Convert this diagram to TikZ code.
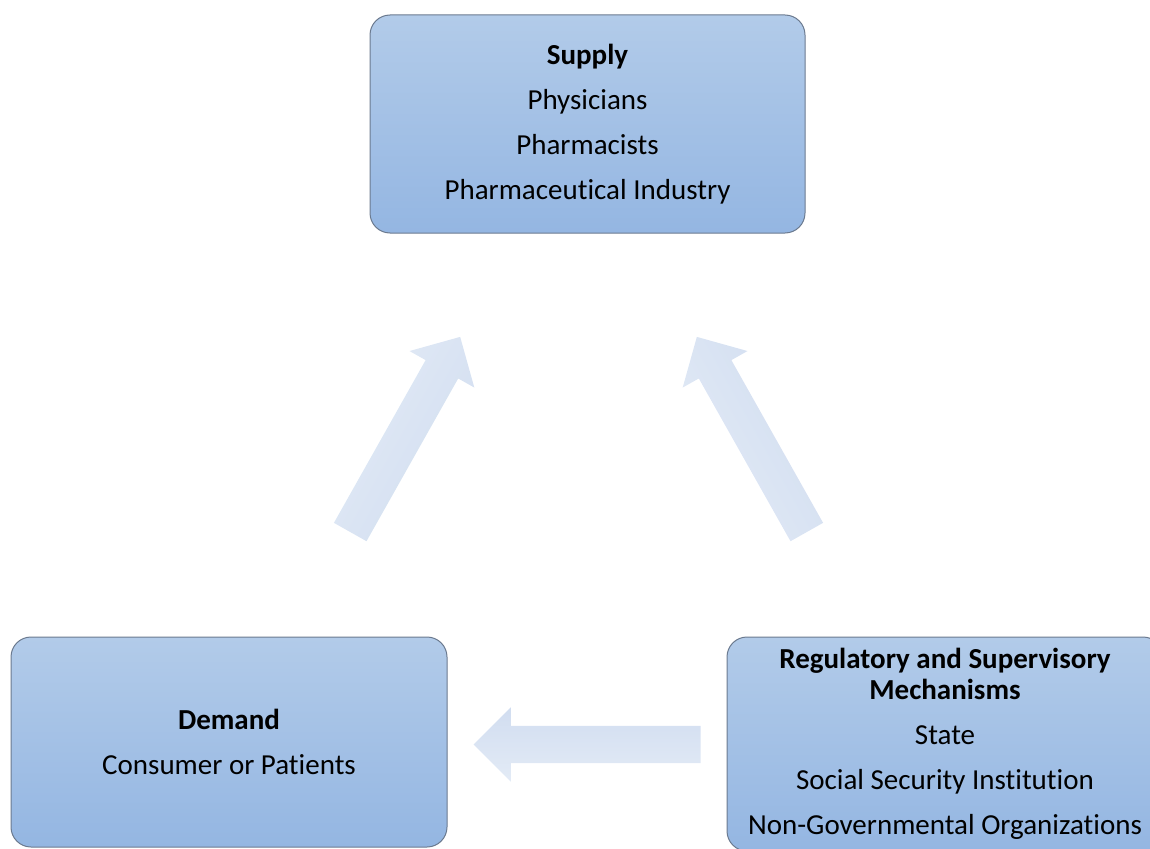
\documentclass[tikz,border=0pt]{standalone}
\usepackage{fontspec}
\setmainfont{Carlito}[Ligatures={NoCommon}]
\usetikzlibrary{shapes.arrows}

\definecolor{boxtop}{HTML}{B2CBE9}
\definecolor{boxbot}{HTML}{94B6E2}
\definecolor{boxline}{HTML}{6B7A8F}
\definecolor{arrtop}{HTML}{E3EBF6}
\definecolor{arrbot}{HTML}{D1DDF0}

\begin{document}
\begin{tikzpicture}[
  x=1pt, y=-1pt,
  font=\fontsize{29}{45}\selectfont,
  box/.style = {draw=boxline, line width=1pt, rounded corners=20pt,
                top color=boxtop, bottom color=boxbot,
                align=center, inner sep=0pt},
  blockarrow/.style = {single arrow, single arrow head extend=18.5pt,
                       single arrow tip angle=90, single arrow head indent=0pt,
                       minimum height=#1, inner xsep=0pt, inner ysep=18.5pt,
                       top color=arrtop, bottom color=arrbot}
]
\useasboundingbox (0,0) rectangle (1150,848);
\clip (0,0) rectangle (1150,848);

% Boxes
\node[box, minimum width=435pt, minimum height=218pt] (supply) at (587.5,124)
  {\textbf{Supply}\\Physicians\\Pharmacists\\Pharmaceutical Industry};
\node[box, minimum width=436pt, minimum height=210pt] (demand) at (229,742)
  {\textbf{Demand}\\Consumer or Patients};
\node[box, minimum width=436pt, minimum height=214pt] (regulate) at (945,744)
  {\textbf{Regulatory and Supervisory}\\[-14pt]\textbf{Mechanisms}\\State\\
   Social Security Institution\\Non-Governmental Organizations};

% Block arrows
\node[blockarrow=224pt, rotate=60.6, shading angle=60.6] (demand_supply) at (400.6,442.6) {};
\node[blockarrow=224pt, rotate=119.4, shading angle=119.4] (regulate_supply) at (756.4,442.6) {};
\node[blockarrow=227pt, rotate=180, shading angle=180] (regulate_demand) at (596.5,744.5) {};

\end{tikzpicture}
\end{document}
